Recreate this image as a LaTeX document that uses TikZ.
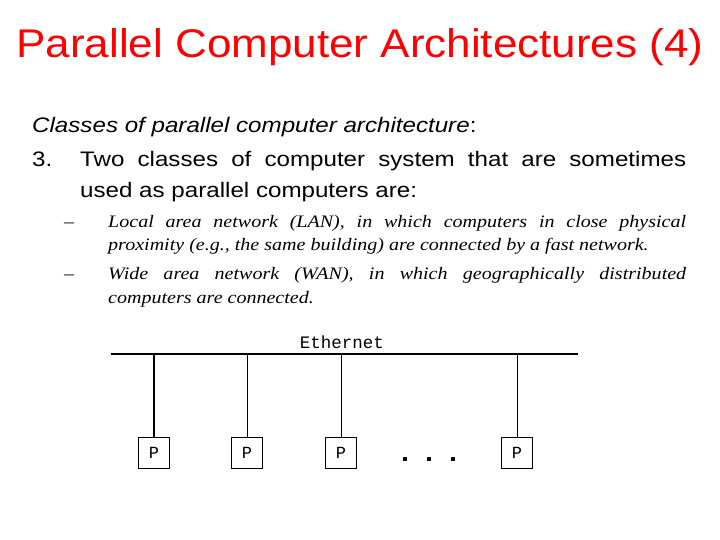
\documentclass[tikz,border=0pt]{standalone}
\usepackage{fontspec}
\setmainfont{Liberation Sans}
\newfontfamily\ttl[FakeStretch=1.1]{Liberation Sans}
\newfontfamily\ars[FakeStretch=1.15]{Liberation Sans}
\newfontfamily\tms[FakeStretch=1.145]{Liberation Serif}
\newfontfamily\cour{Liberation Mono}
\begin{document}
\begin{tikzpicture}[x=1pt,y=-1pt,
  pbox/.style={draw,line width=1pt,minimum width=31pt,minimum height=31pt,inner sep=0pt,font=\cour\fontsize{17}{17}\selectfont},
  link/.style={line width=0.8pt},
  txt/.style={anchor=base west,inner sep=0pt}]
\useasboundingbox (0,0) rectangle (720,540);
\node[anchor=base,text=red,font=\ttl\fontsize{40}{40}\selectfont,inner sep=0pt] (title) at (360,58) {Parallel Computer Architectures (4)};
\node[txt,font=\ars\fontsize{21}{21}\selectfont\itshape] (cls) at (32,133) {Classes of parallel computer architecture\upshape:};
\node[txt,font=\ars\fontsize{21}{21}\selectfont] (n3) at (32,167) {3.};
\node[txt,font=\ars\fontsize{21}{21}\selectfont] (l1) at (80,167) {\makebox[606pt][s]{Two classes of computer system that are sometimes}};
\node[txt,font=\ars\fontsize{21}{21}\selectfont] (l2) at (80,197) {used as parallel computers are:};
\node[txt,font=\tms\fontsize{17.5}{17.5}\selectfont] (d1) at (64,227) {\char"2013};
\node[txt,font=\tms\fontsize{17.5}{17.5}\selectfont\itshape] (b1) at (108,227) {\makebox[578pt][s]{Local area network (LAN), in which computers in close physical}};
\node[txt,font=\tms\fontsize{17.5}{17.5}\selectfont\itshape] (b2) at (108,250) {proximity (e.g., the same building) are connected by a fast network.};
\node[txt,font=\tms\fontsize{17.5}{17.5}\selectfont] (d2) at (64,279) {\char"2013};
\node[txt,font=\tms\fontsize{17.5}{17.5}\selectfont\itshape] (b3) at (108,279) {\makebox[578pt][s]{Wide area network (WAN), in which geographically distributed}};
\node[txt,font=\tms\fontsize{17.5}{17.5}\selectfont\itshape] (b4) at (108,303) {computers are connected.};
\coordinate (busL) at (111,354);
\coordinate (busR) at (578,354);
\draw[line width=2pt] (busL) -- (busR);
\node[font=\cour\fontsize{17.5}{17.5}\selectfont,anchor=base] (eth) at (342,348) {Ethernet};
\node[pbox] (p1) at (154,453) {P};
\node[pbox] (p2) at (247,453) {P};
\node[pbox] (p3) at (341,453) {P};
\node[pbox] (p4) at (517,453) {P};
\foreach \p/\w in {p1/1.6pt,p2/0.8pt,p3/0.8pt,p4/0.8pt}{
  \coordinate (\p top) at (\p.north |- busL);
  \draw[line width=\w] (\p top) -- (\p.north);
}
\foreach \i/\x in {1/405,2/429,3/453}{
  \node[fill=black,minimum size=4pt,inner sep=0pt] (dot\i) at (\x,459) {};
}
\end{tikzpicture}
\end{document}
